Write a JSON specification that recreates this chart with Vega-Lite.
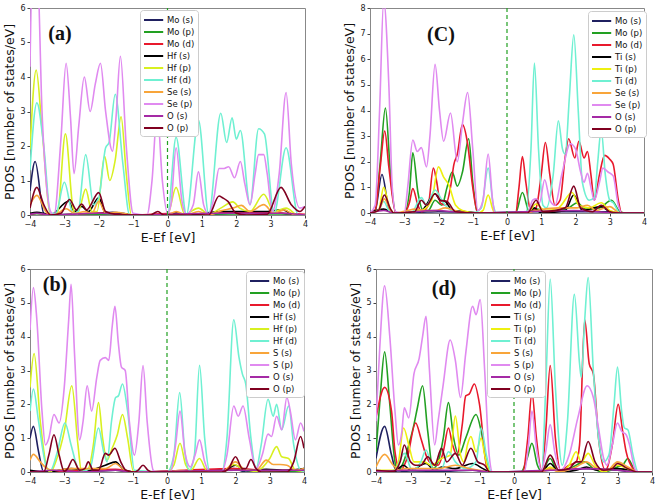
{
"$schema":"https://vega.github.io/schema/vega-lite/v6.json",
"background":"white",
"padding":{"left":3,"top":3,"right":5,"bottom":3},
"config":{
 "view":{"stroke":"#888","strokeWidth":1},
 "axis":{"grid":false,"labelFont":"DejaVu Sans","titleFont":"DejaVu Sans","labelFontSize":8,"titleFontSize":12.5,"titleFontWeight":"normal","titleColor":"#111","labelColor":"#222","domainColor":"#888","tickColor":"#444","tickSize":3,"labelFlush":false,"labelOverlap":false,"labelSeparation":0,"labelPadding":2},
 "axisY":{"titlePadding":3},
 "axisX":{"titlePadding":3},
 "legend":{"orient":"none","fillColor":"white","strokeColor":"#ccc","cornerRadius":3,"padding":3,"labelFont":"DejaVu Sans","labelFontSize":8.5,"labelColor":"#111","symbolType":"M-1,0H2.2","symbolStrokeWidth":2,"symbolSize":144,"rowPadding":0,"labelOffset":10}
},
"datasets":{
"a":[
{"s":"Mo (s)","x":-4,"y":0.7},{"s":"Mo (s)","x":-3.85,"y":1.55},{"s":"Mo (s)","x":-3.6,"y":0.05},{"s":"Mo (s)","x":-3.4,"y":0},{"s":"Mo (s)","x":-2.9,"y":0.02},{"s":"Mo (s)","x":-2,"y":0.05},{"s":"Mo (s)","x":-1.6,"y":0.08},{"s":"Mo (s)","x":-1.3,"y":0.05},{"s":"Mo (s)","x":-1,"y":0},{"s":"Mo (s)","x":0,"y":0},{"s":"Mo (s)","x":0.25,"y":0.04},{"s":"Mo (s)","x":0.6,"y":0},{"s":"Mo (s)","x":1.5,"y":0.03},{"s":"Mo (s)","x":2,"y":0.05},{"s":"Mo (s)","x":2.7,"y":0.05},{"s":"Mo (s)","x":3.3,"y":0.05},{"s":"Mo (s)","x":3.6,"y":0},{"s":"Mo (s)","x":4,"y":0},
{"s":"Mo (p)","x":-4,"y":0.02},{"s":"Mo (p)","x":-3.8,"y":0.04},{"s":"Mo (p)","x":-3.3,"y":0},{"s":"Mo (p)","x":-1.5,"y":0.03},{"s":"Mo (p)","x":-1,"y":0},{"s":"Mo (p)","x":4,"y":0},
{"s":"Mo (d)","x":-4,"y":0.03},{"s":"Mo (d)","x":-3.8,"y":0.05},{"s":"Mo (d)","x":-3.3,"y":0},{"s":"Mo (d)","x":-2,"y":0.06},{"s":"Mo (d)","x":-1.5,"y":0.05},{"s":"Mo (d)","x":-1,"y":0},{"s":"Mo (d)","x":0.25,"y":0.05},{"s":"Mo (d)","x":0.6,"y":0},{"s":"Mo (d)","x":1.6,"y":0.08},{"s":"Mo (d)","x":2.8,"y":0.08},{"s":"Mo (d)","x":3.4,"y":0.05},{"s":"Mo (d)","x":4,"y":0.02},
{"s":"Hf (s)","x":-4,"y":0.05},{"s":"Hf (s)","x":-3.8,"y":0.08},{"s":"Hf (s)","x":-3.4,"y":0},{"s":"Hf (s)","x":-2.88,"y":0.4},{"s":"Hf (s)","x":-2.7,"y":0.1},{"s":"Hf (s)","x":-2.5,"y":0.25},{"s":"Hf (s)","x":-2.3,"y":0.1},{"s":"Hf (s)","x":-2,"y":0.5},{"s":"Hf (s)","x":-1.8,"y":0.05},{"s":"Hf (s)","x":-1.5,"y":0.05},{"s":"Hf (s)","x":-1,"y":0},{"s":"Hf (s)","x":0,"y":0},{"s":"Hf (s)","x":0.25,"y":0.05},{"s":"Hf (s)","x":0.6,"y":0},{"s":"Hf (s)","x":1.55,"y":0.1},{"s":"Hf (s)","x":1.9,"y":0.1},{"s":"Hf (s)","x":2.8,"y":0.1},{"s":"Hf (s)","x":3.35,"y":0.15},{"s":"Hf (s)","x":3.7,"y":0},{"s":"Hf (s)","x":4,"y":0},
{"s":"Hf (p)","x":-4,"y":1.9},{"s":"Hf (p)","x":-3.82,"y":4.2},{"s":"Hf (p)","x":-3.65,"y":2.5},{"s":"Hf (p)","x":-3.4,"y":0},{"s":"Hf (p)","x":-3.2,"y":0.05},{"s":"Hf (p)","x":-2.97,"y":2.35},{"s":"Hf (p)","x":-2.75,"y":0.2},{"s":"Hf (p)","x":-2.65,"y":0},{"s":"Hf (p)","x":-2.55,"y":0.2},{"s":"Hf (p)","x":-2.38,"y":0.75},{"s":"Hf (p)","x":-2.2,"y":0.1},{"s":"Hf (p)","x":-2.05,"y":0.1},{"s":"Hf (p)","x":-1.83,"y":1.7},{"s":"Hf (p)","x":-1.68,"y":1.0},{"s":"Hf (p)","x":-1.52,"y":1.6},{"s":"Hf (p)","x":-1.35,"y":2.85},{"s":"Hf (p)","x":-1.2,"y":1.2},{"s":"Hf (p)","x":-1.05,"y":0},{"s":"Hf (p)","x":0,"y":0},{"s":"Hf (p)","x":0.25,"y":0.8},{"s":"Hf (p)","x":0.5,"y":0.02},{"s":"Hf (p)","x":0.9,"y":0.2},{"s":"Hf (p)","x":1.2,"y":0.02},{"s":"Hf (p)","x":1.55,"y":0.2},{"s":"Hf (p)","x":1.9,"y":0.38},{"s":"Hf (p)","x":2.1,"y":0.2},{"s":"Hf (p)","x":2.4,"y":0.1},{"s":"Hf (p)","x":2.8,"y":0.6},{"s":"Hf (p)","x":3.1,"y":0.1},{"s":"Hf (p)","x":3.45,"y":0.2},{"s":"Hf (p)","x":3.8,"y":0},{"s":"Hf (p)","x":4,"y":0},
{"s":"Hf (d)","x":-4,"y":1.3},{"s":"Hf (d)","x":-3.8,"y":3.25},{"s":"Hf (d)","x":-3.6,"y":2.0},{"s":"Hf (d)","x":-3.4,"y":0.05},{"s":"Hf (d)","x":-3.25,"y":0.05},{"s":"Hf (d)","x":-3.0,"y":0.95},{"s":"Hf (d)","x":-2.75,"y":0.05},{"s":"Hf (d)","x":-2.6,"y":0.1},{"s":"Hf (d)","x":-2.38,"y":1.75},{"s":"Hf (d)","x":-2.15,"y":0.3},{"s":"Hf (d)","x":-2.0,"y":0.5},{"s":"Hf (d)","x":-1.8,"y":1.95},{"s":"Hf (d)","x":-1.7,"y":2.1},{"s":"Hf (d)","x":-1.52,"y":3.5},{"s":"Hf (d)","x":-1.3,"y":1.5},{"s":"Hf (d)","x":-1.1,"y":0},{"s":"Hf (d)","x":0,"y":0},{"s":"Hf (d)","x":0.25,"y":2.25},{"s":"Hf (d)","x":0.55,"y":0.02},{"s":"Hf (d)","x":0.9,"y":2.75},{"s":"Hf (d)","x":1.2,"y":0.02},{"s":"Hf (d)","x":1.55,"y":2.95},{"s":"Hf (d)","x":1.72,"y":2.1},{"s":"Hf (d)","x":1.88,"y":2.82},{"s":"Hf (d)","x":2.0,"y":2.2},{"s":"Hf (d)","x":2.12,"y":2.45},{"s":"Hf (d)","x":2.4,"y":0.3},{"s":"Hf (d)","x":2.65,"y":2.5},{"s":"Hf (d)","x":2.82,"y":2.35},{"s":"Hf (d)","x":3.1,"y":0.05},{"s":"Hf (d)","x":3.45,"y":1.95},{"s":"Hf (d)","x":3.8,"y":0},{"s":"Hf (d)","x":4,"y":0},
{"s":"Se (s)","x":-4,"y":0.3},{"s":"Se (s)","x":-3.8,"y":0.57},{"s":"Se (s)","x":-3.5,"y":0.05},{"s":"Se (s)","x":-3.3,"y":0},{"s":"Se (s)","x":-2.95,"y":0.18},{"s":"Se (s)","x":-2.7,"y":0.05},{"s":"Se (s)","x":-2.4,"y":0.1},{"s":"Se (s)","x":-2.2,"y":0.05},{"s":"Se (s)","x":-2.0,"y":0.4},{"s":"Se (s)","x":-1.8,"y":0.05},{"s":"Se (s)","x":-1.5,"y":0.08},{"s":"Se (s)","x":-1.0,"y":0},{"s":"Se (s)","x":0,"y":0},{"s":"Se (s)","x":0.25,"y":0.1},{"s":"Se (s)","x":0.55,"y":0},{"s":"Se (s)","x":0.9,"y":0.1},{"s":"Se (s)","x":1.2,"y":0},{"s":"Se (s)","x":1.55,"y":0.12},{"s":"Se (s)","x":1.9,"y":0.2},{"s":"Se (s)","x":2.15,"y":0.28},{"s":"Se (s)","x":2.4,"y":0.1},{"s":"Se (s)","x":2.8,"y":0.3},{"s":"Se (s)","x":3.1,"y":0.05},{"s":"Se (s)","x":3.4,"y":0.15},{"s":"Se (s)","x":3.7,"y":0},{"s":"Se (s)","x":4,"y":0},
{"s":"Se (p)","x":-4,"y":4.3},{"s":"Se (p)","x":-3.92,"y":7.5},{"s":"Se (p)","x":-3.8,"y":7.5},{"s":"Se (p)","x":-3.65,"y":3},{"s":"Se (p)","x":-3.4,"y":0.1},{"s":"Se (p)","x":-3.3,"y":0},{"s":"Se (p)","x":-3.1,"y":2.2},{"s":"Se (p)","x":-2.95,"y":4.4},{"s":"Se (p)","x":-2.82,"y":2.8},{"s":"Se (p)","x":-2.72,"y":1.2},{"s":"Se (p)","x":-2.58,"y":2.6},{"s":"Se (p)","x":-2.42,"y":4.0},{"s":"Se (p)","x":-2.25,"y":3.0},{"s":"Se (p)","x":-2.1,"y":3.8},{"s":"Se (p)","x":-1.95,"y":4.4},{"s":"Se (p)","x":-1.8,"y":3.0},{"s":"Se (p)","x":-1.6,"y":1.85},{"s":"Se (p)","x":-1.5,"y":2.8},{"s":"Se (p)","x":-1.37,"y":4.6},{"s":"Se (p)","x":-1.2,"y":2.0},{"s":"Se (p)","x":-1.0,"y":0.05},{"s":"Se (p)","x":-0.6,"y":0},{"s":"Se (p)","x":-0.45,"y":1.0},{"s":"Se (p)","x":-0.3,"y":3.0},{"s":"Se (p)","x":-0.15,"y":1.0},{"s":"Se (p)","x":0,"y":0.05},{"s":"Se (p)","x":0.1,"y":0.3},{"s":"Se (p)","x":0.25,"y":1.95},{"s":"Se (p)","x":0.42,"y":0.4},{"s":"Se (p)","x":0.55,"y":0.02},{"s":"Se (p)","x":0.75,"y":0.3},{"s":"Se (p)","x":0.9,"y":1.25},{"s":"Se (p)","x":1.05,"y":0.3},{"s":"Se (p)","x":1.2,"y":0.02},{"s":"Se (p)","x":1.35,"y":0.5},{"s":"Se (p)","x":1.5,"y":1.35},{"s":"Se (p)","x":1.65,"y":1.35},{"s":"Se (p)","x":1.78,"y":1.4},{"s":"Se (p)","x":1.95,"y":1.08},{"s":"Se (p)","x":2.12,"y":1.55},{"s":"Se (p)","x":2.25,"y":0.9},{"s":"Se (p)","x":2.4,"y":0.3},{"s":"Se (p)","x":2.55,"y":1.2},{"s":"Se (p)","x":2.65,"y":1.75},{"s":"Se (p)","x":2.8,"y":1.75},{"s":"Se (p)","x":2.9,"y":1.2},{"s":"Se (p)","x":3.05,"y":0.1},{"s":"Se (p)","x":3.25,"y":1.2},{"s":"Se (p)","x":3.45,"y":3.55},{"s":"Se (p)","x":3.6,"y":1.5},{"s":"Se (p)","x":3.85,"y":0.2},{"s":"Se (p)","x":4,"y":0.25},
{"s":"O (s)","x":-4,"y":0.02},{"s":"O (s)","x":-3.8,"y":0.05},{"s":"O (s)","x":-3.4,"y":0},{"s":"O (s)","x":-2,"y":0.05},{"s":"O (s)","x":-1,"y":0},{"s":"O (s)","x":1.5,"y":0.05},{"s":"O (s)","x":3.3,"y":0.05},{"s":"O (s)","x":4,"y":0},
{"s":"O (p)","x":-4,"y":0.2},{"s":"O (p)","x":-3.8,"y":0.8},{"s":"O (p)","x":-3.6,"y":0.3},{"s":"O (p)","x":-3.4,"y":0},{"s":"O (p)","x":-3.1,"y":0.05},{"s":"O (p)","x":-2.85,"y":0.45},{"s":"O (p)","x":-2.65,"y":0.15},{"s":"O (p)","x":-2.5,"y":0.32},{"s":"O (p)","x":-2.35,"y":0.15},{"s":"O (p)","x":-2.0,"y":0.65},{"s":"O (p)","x":-1.8,"y":0.1},{"s":"O (p)","x":-1.5,"y":0.02},{"s":"O (p)","x":-1,"y":0},{"s":"O (p)","x":-0.5,"y":0},{"s":"O (p)","x":-0.28,"y":0.1},{"s":"O (p)","x":-0.1,"y":0},{"s":"O (p)","x":1.2,"y":0},{"s":"O (p)","x":1.5,"y":0.55},{"s":"O (p)","x":1.6,"y":0.5},{"s":"O (p)","x":1.75,"y":0.4},{"s":"O (p)","x":2.0,"y":0.05},{"s":"O (p)","x":2.3,"y":0},{"s":"O (p)","x":2.9,"y":0.02},{"s":"O (p)","x":3.3,"y":0.8},{"s":"O (p)","x":3.6,"y":0.3},{"s":"O (p)","x":3.85,"y":0.1},{"s":"O (p)","x":4,"y":0.25}
],
"c":[
{"s":"Mo (s)","x":-4,"y":0},{"s":"Mo (s)","x":-3.85,"y":0.1},{"s":"Mo (s)","x":-3.65,"y":1.5},{"s":"Mo (s)","x":-3.45,"y":0.2},{"s":"Mo (s)","x":-3.3,"y":0},{"s":"Mo (s)","x":-2.5,"y":0.03},{"s":"Mo (s)","x":-2,"y":0.05},{"s":"Mo (s)","x":-1.2,"y":0.03},{"s":"Mo (s)","x":-0.8,"y":0},{"s":"Mo (s)","x":0.8,"y":0.05},{"s":"Mo (s)","x":2,"y":0.05},{"s":"Mo (s)","x":3,"y":0.05},{"s":"Mo (s)","x":3.3,"y":0},{"s":"Mo (s)","x":4,"y":0},
{"s":"Mo (p)","x":-4,"y":0},{"s":"Mo (p)","x":-3.85,"y":0.1},{"s":"Mo (p)","x":-3.7,"y":2.0},{"s":"Mo (p)","x":-3.55,"y":4.1},{"s":"Mo (p)","x":-3.4,"y":1.5},{"s":"Mo (p)","x":-3.25,"y":0.02},{"s":"Mo (p)","x":-3.0,"y":0},{"s":"Mo (p)","x":-2.85,"y":0.8},{"s":"Mo (p)","x":-2.75,"y":2.35},{"s":"Mo (p)","x":-2.6,"y":0.8},{"s":"Mo (p)","x":-2.45,"y":0.1},{"s":"Mo (p)","x":-2.3,"y":0.1},{"s":"Mo (p)","x":-2.1,"y":0.5},{"s":"Mo (p)","x":-1.9,"y":0.3},{"s":"Mo (p)","x":-1.75,"y":1.0},{"s":"Mo (p)","x":-1.6,"y":1.6},{"s":"Mo (p)","x":-1.45,"y":1.05},{"s":"Mo (p)","x":-1.3,"y":1.6},{"s":"Mo (p)","x":-1.12,"y":2.9},{"s":"Mo (p)","x":-1.0,"y":1.2},{"s":"Mo (p)","x":-0.85,"y":0},{"s":"Mo (p)","x":0.25,"y":0},{"s":"Mo (p)","x":0.45,"y":0.8},{"s":"Mo (p)","x":0.65,"y":0.05},{"s":"Mo (p)","x":0.85,"y":0.15},{"s":"Mo (p)","x":1.2,"y":0.05},{"s":"Mo (p)","x":1.8,"y":0.2},{"s":"Mo (p)","x":2.05,"y":0.4},{"s":"Mo (p)","x":2.3,"y":0.15},{"s":"Mo (p)","x":2.7,"y":0.2},{"s":"Mo (p)","x":3.05,"y":0.5},{"s":"Mo (p)","x":3.3,"y":0.05},{"s":"Mo (p)","x":3.5,"y":0},{"s":"Mo (p)","x":4,"y":0},
{"s":"Mo (d)","x":-4,"y":0},{"s":"Mo (d)","x":-3.85,"y":0.1},{"s":"Mo (d)","x":-3.7,"y":1.8},{"s":"Mo (d)","x":-3.57,"y":3.2},{"s":"Mo (d)","x":-3.45,"y":1.8},{"s":"Mo (d)","x":-3.25,"y":0.02},{"s":"Mo (d)","x":-3.0,"y":0},{"s":"Mo (d)","x":-2.85,"y":0.4},{"s":"Mo (d)","x":-2.75,"y":0.95},{"s":"Mo (d)","x":-2.6,"y":0.3},{"s":"Mo (d)","x":-2.5,"y":0.05},{"s":"Mo (d)","x":-2.3,"y":0.3},{"s":"Mo (d)","x":-2.15,"y":1.75},{"s":"Mo (d)","x":-2.05,"y":1.2},{"s":"Mo (d)","x":-1.95,"y":0.4},{"s":"Mo (d)","x":-1.8,"y":0.3},{"s":"Mo (d)","x":-1.65,"y":1.0},{"s":"Mo (d)","x":-1.55,"y":1.9},{"s":"Mo (d)","x":-1.45,"y":2.3},{"s":"Mo (d)","x":-1.3,"y":3.45},{"s":"Mo (d)","x":-1.15,"y":2.7},{"s":"Mo (d)","x":-1.0,"y":1.0},{"s":"Mo (d)","x":-0.85,"y":0},{"s":"Mo (d)","x":0.25,"y":0},{"s":"Mo (d)","x":0.35,"y":1.0},{"s":"Mo (d)","x":0.45,"y":2.2},{"s":"Mo (d)","x":0.55,"y":1.2},{"s":"Mo (d)","x":0.7,"y":0.05},{"s":"Mo (d)","x":0.85,"y":0.2},{"s":"Mo (d)","x":1.0,"y":1.5},{"s":"Mo (d)","x":1.12,"y":2.75},{"s":"Mo (d)","x":1.25,"y":1.5},{"s":"Mo (d)","x":1.4,"y":0.3},{"s":"Mo (d)","x":1.55,"y":0.5},{"s":"Mo (d)","x":1.7,"y":2.2},{"s":"Mo (d)","x":1.8,"y":2.9},{"s":"Mo (d)","x":1.98,"y":2.15},{"s":"Mo (d)","x":2.1,"y":2.8},{"s":"Mo (d)","x":2.25,"y":2.15},{"s":"Mo (d)","x":2.35,"y":2.4},{"s":"Mo (d)","x":2.45,"y":1.5},{"s":"Mo (d)","x":2.55,"y":0.5},{"s":"Mo (d)","x":2.7,"y":1.5},{"s":"Mo (d)","x":2.85,"y":2.25},{"s":"Mo (d)","x":3.0,"y":2.1},{"s":"Mo (d)","x":3.1,"y":1.9},{"s":"Mo (d)","x":3.25,"y":0.5},{"s":"Mo (d)","x":3.35,"y":0},{"s":"Mo (d)","x":4,"y":0},
{"s":"Ti (s)","x":-4,"y":0},{"s":"Ti (s)","x":-3.6,"y":0.15},{"s":"Ti (s)","x":-3.3,"y":0},{"s":"Ti (s)","x":-2.5,"y":0.1},{"s":"Ti (s)","x":-2.1,"y":0.75},{"s":"Ti (s)","x":-1.95,"y":0.5},{"s":"Ti (s)","x":-1.8,"y":0.45},{"s":"Ti (s)","x":-1.6,"y":0.1},{"s":"Ti (s)","x":-1.2,"y":0.05},{"s":"Ti (s)","x":-0.8,"y":0},{"s":"Ti (s)","x":0.6,"y":0},{"s":"Ti (s)","x":0.8,"y":0.2},{"s":"Ti (s)","x":1.0,"y":0},{"s":"Ti (s)","x":1.7,"y":0.1},{"s":"Ti (s)","x":1.95,"y":0.7},{"s":"Ti (s)","x":2.2,"y":0.1},{"s":"Ti (s)","x":2.75,"y":0.25},{"s":"Ti (s)","x":3.0,"y":0.05},{"s":"Ti (s)","x":3.3,"y":0},{"s":"Ti (s)","x":4,"y":0},
{"s":"Ti (p)","x":-4,"y":0},{"s":"Ti (p)","x":-3.75,"y":0.1},{"s":"Ti (p)","x":-3.6,"y":1.0},{"s":"Ti (p)","x":-3.45,"y":0.3},{"s":"Ti (p)","x":-3.3,"y":0},{"s":"Ti (p)","x":-2.5,"y":0.1},{"s":"Ti (p)","x":-2.2,"y":0.5},{"s":"Ti (p)","x":-2.0,"y":1.8},{"s":"Ti (p)","x":-1.85,"y":1.4},{"s":"Ti (p)","x":-1.7,"y":1.1},{"s":"Ti (p)","x":-1.5,"y":0.3},{"s":"Ti (p)","x":-1.3,"y":0.1},{"s":"Ti (p)","x":-0.85,"y":0},{"s":"Ti (p)","x":-0.7,"y":0.1},{"s":"Ti (p)","x":-0.55,"y":0.7},{"s":"Ti (p)","x":-0.4,"y":0.1},{"s":"Ti (p)","x":-0.3,"y":0},{"s":"Ti (p)","x":0.6,"y":0},{"s":"Ti (p)","x":0.85,"y":0.35},{"s":"Ti (p)","x":1.1,"y":0.1},{"s":"Ti (p)","x":1.5,"y":0.2},{"s":"Ti (p)","x":1.9,"y":0.8},{"s":"Ti (p)","x":2.1,"y":0.3},{"s":"Ti (p)","x":2.4,"y":0.2},{"s":"Ti (p)","x":2.75,"y":0.4},{"s":"Ti (p)","x":3.0,"y":0.1},{"s":"Ti (p)","x":3.3,"y":0},{"s":"Ti (p)","x":4,"y":0},
{"s":"Ti (d)","x":-4,"y":0},{"s":"Ti (d)","x":-3.75,"y":0.1},{"s":"Ti (d)","x":-3.6,"y":0.45},{"s":"Ti (d)","x":-3.45,"y":0.1},{"s":"Ti (d)","x":-3.3,"y":0},{"s":"Ti (d)","x":-2.8,"y":0},{"s":"Ti (d)","x":-2.5,"y":0.6},{"s":"Ti (d)","x":-2.35,"y":0.3},{"s":"Ti (d)","x":-2.1,"y":0.9},{"s":"Ti (d)","x":-1.9,"y":0.5},{"s":"Ti (d)","x":-1.8,"y":0.3},{"s":"Ti (d)","x":-1.5,"y":0.05},{"s":"Ti (d)","x":-1,"y":0},{"s":"Ti (d)","x":-0.75,"y":0.2},{"s":"Ti (d)","x":-0.55,"y":1.75},{"s":"Ti (d)","x":-0.4,"y":0.3},{"s":"Ti (d)","x":-0.3,"y":0},{"s":"Ti (d)","x":0.55,"y":0},{"s":"Ti (d)","x":0.7,"y":2.5},{"s":"Ti (d)","x":0.8,"y":5.85},{"s":"Ti (d)","x":0.92,"y":2.5},{"s":"Ti (d)","x":1.05,"y":0.3},{"s":"Ti (d)","x":1.15,"y":0.2},{"s":"Ti (d)","x":1.35,"y":1.5},{"s":"Ti (d)","x":1.5,"y":3.6},{"s":"Ti (d)","x":1.62,"y":2.5},{"s":"Ti (d)","x":1.7,"y":2.3},{"s":"Ti (d)","x":1.82,"y":4.5},{"s":"Ti (d)","x":1.95,"y":6.95},{"s":"Ti (d)","x":2.08,"y":4.0},{"s":"Ti (d)","x":2.2,"y":1.2},{"s":"Ti (d)","x":2.4,"y":0.5},{"s":"Ti (d)","x":2.55,"y":0.6},{"s":"Ti (d)","x":2.65,"y":2.0},{"s":"Ti (d)","x":2.75,"y":3.25},{"s":"Ti (d)","x":2.87,"y":1.5},{"s":"Ti (d)","x":3.0,"y":0.5},{"s":"Ti (d)","x":3.1,"y":0.4},{"s":"Ti (d)","x":3.3,"y":0},{"s":"Ti (d)","x":4,"y":0},
{"s":"Se (s)","x":-4,"y":0},{"s":"Se (s)","x":-3.75,"y":0.1},{"s":"Se (s)","x":-3.58,"y":0.55},{"s":"Se (s)","x":-3.4,"y":0.1},{"s":"Se (s)","x":-3.3,"y":0},{"s":"Se (s)","x":-2.9,"y":0.1},{"s":"Se (s)","x":-2.7,"y":0.15},{"s":"Se (s)","x":-2.4,"y":0.1},{"s":"Se (s)","x":-2.1,"y":0.1},{"s":"Se (s)","x":-1.8,"y":0.2},{"s":"Se (s)","x":-1.4,"y":0.05},{"s":"Se (s)","x":-0.85,"y":0},{"s":"Se (s)","x":0.6,"y":0},{"s":"Se (s)","x":0.85,"y":0.1},{"s":"Se (s)","x":1.5,"y":0.2},{"s":"Se (s)","x":2.05,"y":0.2},{"s":"Se (s)","x":2.35,"y":0.3},{"s":"Se (s)","x":2.6,"y":0.1},{"s":"Se (s)","x":3.0,"y":0.25},{"s":"Se (s)","x":3.3,"y":0},{"s":"Se (s)","x":4,"y":0},
{"s":"Se (p)","x":-4,"y":0},{"s":"Se (p)","x":-3.85,"y":0.3},{"s":"Se (p)","x":-3.72,"y":4.0},{"s":"Se (p)","x":-3.6,"y":8.3},{"s":"Se (p)","x":-3.45,"y":5},{"s":"Se (p)","x":-3.35,"y":1},{"s":"Se (p)","x":-3.25,"y":0.05},{"s":"Se (p)","x":-3.0,"y":0},{"s":"Se (p)","x":-2.9,"y":1.0},{"s":"Se (p)","x":-2.75,"y":2.85},{"s":"Se (p)","x":-2.62,"y":2.4},{"s":"Se (p)","x":-2.5,"y":2.55},{"s":"Se (p)","x":-2.35,"y":1.8},{"s":"Se (p)","x":-2.25,"y":3.0},{"s":"Se (p)","x":-2.1,"y":5.8},{"s":"Se (p)","x":-1.97,"y":4.0},{"s":"Se (p)","x":-1.85,"y":2.8},{"s":"Se (p)","x":-1.65,"y":3.9},{"s":"Se (p)","x":-1.45,"y":2.0},{"s":"Se (p)","x":-1.3,"y":3.5},{"s":"Se (p)","x":-1.15,"y":4.7},{"s":"Se (p)","x":-1.0,"y":2.5},{"s":"Se (p)","x":-0.85,"y":0.1},{"s":"Se (p)","x":-0.7,"y":0.5},{"s":"Se (p)","x":-0.55,"y":2.3},{"s":"Se (p)","x":-0.42,"y":0.5},{"s":"Se (p)","x":-0.35,"y":0},{"s":"Se (p)","x":0.6,"y":0},{"s":"Se (p)","x":0.75,"y":0.5},{"s":"Se (p)","x":0.85,"y":0.55},{"s":"Se (p)","x":0.95,"y":0.4},{"s":"Se (p)","x":1.1,"y":1.3},{"s":"Se (p)","x":1.25,"y":0.5},{"s":"Se (p)","x":1.4,"y":0.3},{"s":"Se (p)","x":1.6,"y":1.5},{"s":"Se (p)","x":1.85,"y":2.7},{"s":"Se (p)","x":2.0,"y":2.5},{"s":"Se (p)","x":2.15,"y":1.6},{"s":"Se (p)","x":2.25,"y":1.2},{"s":"Se (p)","x":2.35,"y":1.55},{"s":"Se (p)","x":2.45,"y":1.0},{"s":"Se (p)","x":2.55,"y":0.5},{"s":"Se (p)","x":2.7,"y":1.2},{"s":"Se (p)","x":2.8,"y":1.75},{"s":"Se (p)","x":2.95,"y":1.6},{"s":"Se (p)","x":3.1,"y":1.45},{"s":"Se (p)","x":3.25,"y":0.3},{"s":"Se (p)","x":3.35,"y":0},{"s":"Se (p)","x":4,"y":0},
{"s":"O (s)","x":-4,"y":0},{"s":"O (s)","x":-3.6,"y":0.1},{"s":"O (s)","x":-3.3,"y":0},{"s":"O (s)","x":-2.1,"y":0.1},{"s":"O (s)","x":-1,"y":0},{"s":"O (s)","x":1.95,"y":0.1},{"s":"O (s)","x":3.3,"y":0},{"s":"O (s)","x":4,"y":0},
{"s":"O (p)","x":-4,"y":0},{"s":"O (p)","x":-3.75,"y":0.1},{"s":"O (p)","x":-3.58,"y":0.7},{"s":"O (p)","x":-3.4,"y":0.15},{"s":"O (p)","x":-3.3,"y":0},{"s":"O (p)","x":-2.7,"y":0.05},{"s":"O (p)","x":-2.5,"y":0.5},{"s":"O (p)","x":-2.35,"y":0.3},{"s":"O (p)","x":-2.1,"y":0.75},{"s":"O (p)","x":-1.95,"y":0.5},{"s":"O (p)","x":-1.75,"y":0.45},{"s":"O (p)","x":-1.5,"y":0.05},{"s":"O (p)","x":-0.8,"y":0},{"s":"O (p)","x":0.6,"y":0},{"s":"O (p)","x":0.85,"y":0.5},{"s":"O (p)","x":1.05,"y":0.05},{"s":"O (p)","x":1.7,"y":0.2},{"s":"O (p)","x":1.95,"y":1.05},{"s":"O (p)","x":2.15,"y":0.2},{"s":"O (p)","x":2.5,"y":0.05},{"s":"O (p)","x":2.75,"y":0.3},{"s":"O (p)","x":3.0,"y":0.05},{"s":"O (p)","x":3.3,"y":0},{"s":"O (p)","x":4,"y":0}
],
"b":[
{"s":"Mo (s)","x":-4,"y":1.0},{"s":"Mo (s)","x":-3.9,"y":1.35},{"s":"Mo (s)","x":-3.75,"y":0.6},{"s":"Mo (s)","x":-3.6,"y":0},{"s":"Mo (s)","x":-2.8,"y":0.02},{"s":"Mo (s)","x":-2,"y":0.03},{"s":"Mo (s)","x":-1.5,"y":0.05},{"s":"Mo (s)","x":-1,"y":0},{"s":"Mo (s)","x":0,"y":0},{"s":"Mo (s)","x":0.4,"y":0.03},{"s":"Mo (s)","x":0.7,"y":0},{"s":"Mo (s)","x":1.95,"y":0.1},{"s":"Mo (s)","x":2.3,"y":0},{"s":"Mo (s)","x":2.9,"y":0.05},{"s":"Mo (s)","x":3.5,"y":0.02},{"s":"Mo (s)","x":4,"y":0.1},
{"s":"Mo (p)","x":-4,"y":0.02},{"s":"Mo (p)","x":-3.5,"y":0},{"s":"Mo (p)","x":-1.5,"y":0.05},{"s":"Mo (p)","x":-1,"y":0},{"s":"Mo (p)","x":2,"y":0.05},{"s":"Mo (p)","x":4,"y":0.02},
{"s":"Mo (d)","x":-4,"y":0.02},{"s":"Mo (d)","x":-3.5,"y":0},{"s":"Mo (d)","x":-1.5,"y":0.08},{"s":"Mo (d)","x":-1,"y":0},{"s":"Mo (d)","x":2,"y":0.1},{"s":"Mo (d)","x":3,"y":0.05},{"s":"Mo (d)","x":4,"y":0.05},
{"s":"Hf (s)","x":-4,"y":0.05},{"s":"Hf (s)","x":-3.5,"y":0},{"s":"Hf (s)","x":-2.8,"y":0.1},{"s":"Hf (s)","x":-2.3,"y":0.05},{"s":"Hf (s)","x":-1.8,"y":0.2},{"s":"Hf (s)","x":-1.5,"y":0.3},{"s":"Hf (s)","x":-1.3,"y":0.1},{"s":"Hf (s)","x":-1,"y":0},{"s":"Hf (s)","x":0,"y":0},{"s":"Hf (s)","x":0.4,"y":0.03},{"s":"Hf (s)","x":0.7,"y":0},{"s":"Hf (s)","x":1.6,"y":0},{"s":"Hf (s)","x":2.0,"y":0.2},{"s":"Hf (s)","x":2.3,"y":0.05},{"s":"Hf (s)","x":2.9,"y":0.08},{"s":"Hf (s)","x":3.5,"y":0.05},{"s":"Hf (s)","x":4,"y":0.1},
{"s":"Hf (p)","x":-4,"y":2.5},{"s":"Hf (p)","x":-3.88,"y":3.5},{"s":"Hf (p)","x":-3.7,"y":1.5},{"s":"Hf (p)","x":-3.5,"y":0.1},{"s":"Hf (p)","x":-3.4,"y":0},{"s":"Hf (p)","x":-3.25,"y":0.3},{"s":"Hf (p)","x":-3.0,"y":1.2},{"s":"Hf (p)","x":-2.78,"y":2.55},{"s":"Hf (p)","x":-2.6,"y":0.8},{"s":"Hf (p)","x":-2.5,"y":0.05},{"s":"Hf (p)","x":-2.3,"y":0.1},{"s":"Hf (p)","x":-2.15,"y":0.8},{"s":"Hf (p)","x":-2.0,"y":2.05},{"s":"Hf (p)","x":-1.88,"y":1.0},{"s":"Hf (p)","x":-1.75,"y":0.35},{"s":"Hf (p)","x":-1.6,"y":0.7},{"s":"Hf (p)","x":-1.45,"y":1.1},{"s":"Hf (p)","x":-1.3,"y":1.7},{"s":"Hf (p)","x":-1.15,"y":1.0},{"s":"Hf (p)","x":-0.98,"y":0.02},{"s":"Hf (p)","x":0,"y":0},{"s":"Hf (p)","x":0.2,"y":0.2},{"s":"Hf (p)","x":0.38,"y":0.85},{"s":"Hf (p)","x":0.55,"y":0.2},{"s":"Hf (p)","x":0.7,"y":0.05},{"s":"Hf (p)","x":0.95,"y":0.4},{"s":"Hf (p)","x":1.15,"y":0.05},{"s":"Hf (p)","x":1.3,"y":0},{"s":"Hf (p)","x":1.6,"y":0},{"s":"Hf (p)","x":1.95,"y":0.22},{"s":"Hf (p)","x":2.2,"y":0.1},{"s":"Hf (p)","x":2.6,"y":0.02},{"s":"Hf (p)","x":3.0,"y":0.4},{"s":"Hf (p)","x":3.2,"y":0.75},{"s":"Hf (p)","x":3.35,"y":0.45},{"s":"Hf (p)","x":3.55,"y":0.4},{"s":"Hf (p)","x":3.75,"y":0.05},{"s":"Hf (p)","x":4,"y":0.02},
{"s":"Hf (d)","x":-4,"y":1.8},{"s":"Hf (d)","x":-3.9,"y":2.45},{"s":"Hf (d)","x":-3.75,"y":1.5},{"s":"Hf (d)","x":-3.5,"y":0.1},{"s":"Hf (d)","x":-3.4,"y":0.05},{"s":"Hf (d)","x":-3.2,"y":0.6},{"s":"Hf (d)","x":-2.98,"y":1.45},{"s":"Hf (d)","x":-2.8,"y":0.8},{"s":"Hf (d)","x":-2.6,"y":0.1},{"s":"Hf (d)","x":-2.5,"y":0.02},{"s":"Hf (d)","x":-2.25,"y":0.1},{"s":"Hf (d)","x":-2.0,"y":1.3},{"s":"Hf (d)","x":-1.85,"y":0.6},{"s":"Hf (d)","x":-1.75,"y":0.3},{"s":"Hf (d)","x":-1.62,"y":1.5},{"s":"Hf (d)","x":-1.5,"y":2.2},{"s":"Hf (d)","x":-1.42,"y":2.25},{"s":"Hf (d)","x":-1.3,"y":2.6},{"s":"Hf (d)","x":-1.15,"y":1.8},{"s":"Hf (d)","x":-0.95,"y":0.05},{"s":"Hf (d)","x":0,"y":0},{"s":"Hf (d)","x":0.2,"y":0.5},{"s":"Hf (d)","x":0.37,"y":2.35},{"s":"Hf (d)","x":0.52,"y":0.6},{"s":"Hf (d)","x":0.65,"y":0.05},{"s":"Hf (d)","x":0.8,"y":0.5},{"s":"Hf (d)","x":0.95,"y":3.15},{"s":"Hf (d)","x":1.1,"y":1.0},{"s":"Hf (d)","x":1.25,"y":0.02},{"s":"Hf (d)","x":1.6,"y":0},{"s":"Hf (d)","x":1.75,"y":1.0},{"s":"Hf (d)","x":1.95,"y":4.5},{"s":"Hf (d)","x":2.1,"y":3.4},{"s":"Hf (d)","x":2.2,"y":2.9},{"s":"Hf (d)","x":2.3,"y":2.6},{"s":"Hf (d)","x":2.45,"y":1.0},{"s":"Hf (d)","x":2.6,"y":0.1},{"s":"Hf (d)","x":2.75,"y":0.8},{"s":"Hf (d)","x":2.95,"y":2.15},{"s":"Hf (d)","x":3.1,"y":1.65},{"s":"Hf (d)","x":3.2,"y":2.0},{"s":"Hf (d)","x":3.35,"y":1.25},{"s":"Hf (d)","x":3.55,"y":1.95},{"s":"Hf (d)","x":3.7,"y":0.8},{"s":"Hf (d)","x":3.9,"y":0.05},{"s":"Hf (d)","x":4,"y":0.02},
{"s":"S (s)","x":-4,"y":0.35},{"s":"S (s)","x":-3.9,"y":0.52},{"s":"S (s)","x":-3.7,"y":0.3},{"s":"S (s)","x":-3.5,"y":0.1},{"s":"S (s)","x":-3.3,"y":0.05},{"s":"S (s)","x":-2.8,"y":0.1},{"s":"S (s)","x":-2.3,"y":0.1},{"s":"S (s)","x":-1.8,"y":0.1},{"s":"S (s)","x":-1.5,"y":0.25},{"s":"S (s)","x":-1.3,"y":0.1},{"s":"S (s)","x":-1,"y":0},{"s":"S (s)","x":0,"y":0},{"s":"S (s)","x":0.4,"y":0.05},{"s":"S (s)","x":0.7,"y":0},{"s":"S (s)","x":1.6,"y":0},{"s":"S (s)","x":2.0,"y":0.3},{"s":"S (s)","x":2.3,"y":0.05},{"s":"S (s)","x":2.6,"y":0.05},{"s":"S (s)","x":2.9,"y":0.35},{"s":"S (s)","x":3.1,"y":0.22},{"s":"S (s)","x":3.3,"y":0.22},{"s":"S (s)","x":3.5,"y":0.2},{"s":"S (s)","x":3.75,"y":0.05},{"s":"S (s)","x":4,"y":0.1},
{"s":"S (p)","x":-4,"y":4.2},{"s":"S (p)","x":-3.9,"y":5.45},{"s":"S (p)","x":-3.8,"y":4.5},{"s":"S (p)","x":-3.65,"y":1.8},{"s":"S (p)","x":-3.55,"y":0.8},{"s":"S (p)","x":-3.45,"y":1.0},{"s":"S (p)","x":-3.3,"y":1.7},{"s":"S (p)","x":-3.15,"y":1.45},{"s":"S (p)","x":-3.0,"y":2.5},{"s":"S (p)","x":-2.87,"y":4.5},{"s":"S (p)","x":-2.8,"y":5.55},{"s":"S (p)","x":-2.7,"y":3.5},{"s":"S (p)","x":-2.55,"y":0.95},{"s":"S (p)","x":-2.45,"y":1.5},{"s":"S (p)","x":-2.33,"y":2.55},{"s":"S (p)","x":-2.2,"y":1.8},{"s":"S (p)","x":-2.05,"y":2.8},{"s":"S (p)","x":-1.95,"y":3.3},{"s":"S (p)","x":-1.8,"y":3.38},{"s":"S (p)","x":-1.7,"y":3.3},{"s":"S (p)","x":-1.6,"y":4.3},{"s":"S (p)","x":-1.52,"y":4.9},{"s":"S (p)","x":-1.42,"y":3.8},{"s":"S (p)","x":-1.33,"y":3.1},{"s":"S (p)","x":-1.22,"y":3.0},{"s":"S (p)","x":-1.1,"y":1.5},{"s":"S (p)","x":-0.95,"y":0.5},{"s":"S (p)","x":-0.82,"y":1.5},{"s":"S (p)","x":-0.7,"y":3.15},{"s":"S (p)","x":-0.58,"y":1.5},{"s":"S (p)","x":-0.4,"y":0.05},{"s":"S (p)","x":-0.3,"y":0},{"s":"S (p)","x":0.1,"y":0},{"s":"S (p)","x":0.25,"y":0.8},{"s":"S (p)","x":0.38,"y":1.8},{"s":"S (p)","x":0.52,"y":0.6},{"s":"S (p)","x":0.68,"y":0.15},{"s":"S (p)","x":0.82,"y":0.5},{"s":"S (p)","x":0.95,"y":0.95},{"s":"S (p)","x":1.1,"y":0.3},{"s":"S (p)","x":1.25,"y":0},{"s":"S (p)","x":1.6,"y":0},{"s":"S (p)","x":1.75,"y":0.5},{"s":"S (p)","x":1.95,"y":1.95},{"s":"S (p)","x":2.08,"y":1.65},{"s":"S (p)","x":2.22,"y":1.95},{"s":"S (p)","x":2.4,"y":1.0},{"s":"S (p)","x":2.6,"y":0.1},{"s":"S (p)","x":2.78,"y":0.5},{"s":"S (p)","x":2.95,"y":1.12},{"s":"S (p)","x":3.05,"y":1.05},{"s":"S (p)","x":3.2,"y":1.65},{"s":"S (p)","x":3.35,"y":1.25},{"s":"S (p)","x":3.5,"y":2.2},{"s":"S (p)","x":3.6,"y":1.8},{"s":"S (p)","x":3.75,"y":0.95},{"s":"S (p)","x":3.9,"y":1.45},{"s":"S (p)","x":4,"y":1.2},
{"s":"O (s)","x":-4,"y":0},{"s":"O (s)","x":-3.3,"y":0.05},{"s":"O (s)","x":-2.5,"y":0},{"s":"O (s)","x":-1.5,"y":0.05},{"s":"O (s)","x":-1,"y":0},{"s":"O (s)","x":2,"y":0.05},{"s":"O (s)","x":3.9,"y":0.05},{"s":"O (s)","x":4,"y":0.05},
{"s":"O (p)","x":-4,"y":0},{"s":"O (p)","x":-3.6,"y":0},{"s":"O (p)","x":-3.45,"y":0.5},{"s":"O (p)","x":-3.3,"y":1.1},{"s":"O (p)","x":-3.15,"y":0.5},{"s":"O (p)","x":-3.0,"y":0.02},{"s":"O (p)","x":-2.9,"y":0.1},{"s":"O (p)","x":-2.75,"y":0.37},{"s":"O (p)","x":-2.55,"y":0.05},{"s":"O (p)","x":-2.4,"y":0.1},{"s":"O (p)","x":-2.3,"y":0.3},{"s":"O (p)","x":-2.15,"y":0.05},{"s":"O (p)","x":-2.0,"y":0.05},{"s":"O (p)","x":-1.8,"y":0.55},{"s":"O (p)","x":-1.7,"y":0.5},{"s":"O (p)","x":-1.52,"y":0.7},{"s":"O (p)","x":-1.35,"y":0.3},{"s":"O (p)","x":-1.2,"y":0.05},{"s":"O (p)","x":-0.95,"y":0},{"s":"O (p)","x":-0.85,"y":0.05},{"s":"O (p)","x":-0.7,"y":0.2},{"s":"O (p)","x":-0.55,"y":0.05},{"s":"O (p)","x":-0.4,"y":0},{"s":"O (p)","x":1.6,"y":0},{"s":"O (p)","x":1.8,"y":0.1},{"s":"O (p)","x":2.0,"y":0.45},{"s":"O (p)","x":2.2,"y":0.1},{"s":"O (p)","x":2.3,"y":0.1},{"s":"O (p)","x":2.45,"y":0.37},{"s":"O (p)","x":2.6,"y":0.1},{"s":"O (p)","x":2.75,"y":0},{"s":"O (p)","x":3.5,"y":0},{"s":"O (p)","x":3.7,"y":0.3},{"s":"O (p)","x":3.9,"y":1.05},{"s":"O (p)","x":4,"y":0.7}
],
"d":[
{"s":"Mo (s)","x":-4,"y":0.4},{"s":"Mo (s)","x":-3.75,"y":1.35},{"s":"Mo (s)","x":-3.55,"y":0.5},{"s":"Mo (s)","x":-3.4,"y":0},{"s":"Mo (s)","x":-3,"y":0.03},{"s":"Mo (s)","x":-2,"y":0.02},{"s":"Mo (s)","x":-1.2,"y":0.05},{"s":"Mo (s)","x":-0.7,"y":0},{"s":"Mo (s)","x":0.5,"y":0.02},{"s":"Mo (s)","x":1.05,"y":0.05},{"s":"Mo (s)","x":2.1,"y":0.1},{"s":"Mo (s)","x":3.0,"y":0.05},{"s":"Mo (s)","x":3.5,"y":0},{"s":"Mo (s)","x":4,"y":0},
{"s":"Mo (p)","x":-4,"y":0.6},{"s":"Mo (p)","x":-3.88,"y":2.2},{"s":"Mo (p)","x":-3.75,"y":3.55},{"s":"Mo (p)","x":-3.6,"y":2.0},{"s":"Mo (p)","x":-3.45,"y":0.3},{"s":"Mo (p)","x":-3.35,"y":0.05},{"s":"Mo (p)","x":-3.2,"y":0.3},{"s":"Mo (p)","x":-3.05,"y":0.8},{"s":"Mo (p)","x":-2.9,"y":1.4},{"s":"Mo (p)","x":-2.8,"y":1.9},{"s":"Mo (p)","x":-2.65,"y":2.55},{"s":"Mo (p)","x":-2.5,"y":1.2},{"s":"Mo (p)","x":-2.35,"y":0.1},{"s":"Mo (p)","x":-2.2,"y":0.3},{"s":"Mo (p)","x":-2.05,"y":1.0},{"s":"Mo (p)","x":-1.9,"y":2.05},{"s":"Mo (p)","x":-1.75,"y":1.0},{"s":"Mo (p)","x":-1.6,"y":0.5},{"s":"Mo (p)","x":-1.4,"y":1.0},{"s":"Mo (p)","x":-1.1,"y":1.7},{"s":"Mo (p)","x":-0.95,"y":1.2},{"s":"Mo (p)","x":-0.8,"y":0.3},{"s":"Mo (p)","x":-0.7,"y":0},{"s":"Mo (p)","x":0.2,"y":0},{"s":"Mo (p)","x":0.38,"y":0.4},{"s":"Mo (p)","x":0.52,"y":0.85},{"s":"Mo (p)","x":0.68,"y":0.2},{"s":"Mo (p)","x":0.8,"y":0.02},{"s":"Mo (p)","x":1.05,"y":0.4},{"s":"Mo (p)","x":1.25,"y":0.05},{"s":"Mo (p)","x":1.6,"y":0.1},{"s":"Mo (p)","x":2.05,"y":0.3},{"s":"Mo (p)","x":2.3,"y":0.1},{"s":"Mo (p)","x":2.6,"y":0},{"s":"Mo (p)","x":2.9,"y":0.1},{"s":"Mo (p)","x":3.0,"y":0.15},{"s":"Mo (p)","x":3.15,"y":0.2},{"s":"Mo (p)","x":3.3,"y":0.4},{"s":"Mo (p)","x":3.5,"y":0.05},{"s":"Mo (p)","x":3.6,"y":0},{"s":"Mo (p)","x":4,"y":0},
{"s":"Mo (d)","x":-4,"y":1.6},{"s":"Mo (d)","x":-3.75,"y":2.5},{"s":"Mo (d)","x":-3.55,"y":1.8},{"s":"Mo (d)","x":-3.45,"y":0.6},{"s":"Mo (d)","x":-3.3,"y":0.05},{"s":"Mo (d)","x":-3.1,"y":0.4},{"s":"Mo (d)","x":-2.85,"y":1.45},{"s":"Mo (d)","x":-2.7,"y":1.0},{"s":"Mo (d)","x":-2.55,"y":0.5},{"s":"Mo (d)","x":-2.45,"y":0.3},{"s":"Mo (d)","x":-2.2,"y":0.2},{"s":"Mo (d)","x":-2.05,"y":0.6},{"s":"Mo (d)","x":-1.9,"y":1.3},{"s":"Mo (d)","x":-1.78,"y":0.8},{"s":"Mo (d)","x":-1.65,"y":0.5},{"s":"Mo (d)","x":-1.5,"y":1.4},{"s":"Mo (d)","x":-1.4,"y":2.25},{"s":"Mo (d)","x":-1.3,"y":2.3},{"s":"Mo (d)","x":-1.15,"y":2.6},{"s":"Mo (d)","x":-1.0,"y":2.0},{"s":"Mo (d)","x":-0.8,"y":0.2},{"s":"Mo (d)","x":-0.7,"y":0},{"s":"Mo (d)","x":0.25,"y":0},{"s":"Mo (d)","x":0.4,"y":1.0},{"s":"Mo (d)","x":0.52,"y":2.35},{"s":"Mo (d)","x":0.65,"y":1.0},{"s":"Mo (d)","x":0.8,"y":0.05},{"s":"Mo (d)","x":0.92,"y":1.2},{"s":"Mo (d)","x":1.05,"y":3.15},{"s":"Mo (d)","x":1.2,"y":1.0},{"s":"Mo (d)","x":1.35,"y":0.05},{"s":"Mo (d)","x":1.6,"y":0.2},{"s":"Mo (d)","x":1.8,"y":0.3},{"s":"Mo (d)","x":1.9,"y":0.8},{"s":"Mo (d)","x":2.05,"y":4.5},{"s":"Mo (d)","x":2.18,"y":3.2},{"s":"Mo (d)","x":2.3,"y":2.9},{"s":"Mo (d)","x":2.45,"y":1.0},{"s":"Mo (d)","x":2.65,"y":0.05},{"s":"Mo (d)","x":2.85,"y":0.8},{"s":"Mo (d)","x":3.02,"y":2.0},{"s":"Mo (d)","x":3.15,"y":1.2},{"s":"Mo (d)","x":3.25,"y":0.6},{"s":"Mo (d)","x":3.45,"y":0.1},{"s":"Mo (d)","x":3.6,"y":0},{"s":"Mo (d)","x":4,"y":0},
{"s":"Ti (s)","x":-4,"y":0.02},{"s":"Ti (s)","x":-3.5,"y":0},{"s":"Ti (s)","x":-3.2,"y":0.2},{"s":"Ti (s)","x":-3.0,"y":0.05},{"s":"Ti (s)","x":-2.55,"y":0.25},{"s":"Ti (s)","x":-2.3,"y":0.05},{"s":"Ti (s)","x":-2.1,"y":0.15},{"s":"Ti (s)","x":-1.7,"y":0.1},{"s":"Ti (s)","x":-1.2,"y":0.25},{"s":"Ti (s)","x":-0.9,"y":0.1},{"s":"Ti (s)","x":-0.7,"y":0},{"s":"Ti (s)","x":0.8,"y":0},{"s":"Ti (s)","x":1.05,"y":0.25},{"s":"Ti (s)","x":1.3,"y":0},{"s":"Ti (s)","x":1.8,"y":0.05},{"s":"Ti (s)","x":2.1,"y":0.15},{"s":"Ti (s)","x":2.4,"y":0.05},{"s":"Ti (s)","x":3.0,"y":0.1},{"s":"Ti (s)","x":3.4,"y":0.05},{"s":"Ti (s)","x":3.6,"y":0},{"s":"Ti (s)","x":4,"y":0},
{"s":"Ti (p)","x":-4,"y":0.05},{"s":"Ti (p)","x":-3.5,"y":0.05},{"s":"Ti (p)","x":-3.35,"y":0.3},{"s":"Ti (p)","x":-3.2,"y":1.3},{"s":"Ti (p)","x":-3.05,"y":0.8},{"s":"Ti (p)","x":-2.9,"y":0.3},{"s":"Ti (p)","x":-2.6,"y":0.3},{"s":"Ti (p)","x":-2.4,"y":0.2},{"s":"Ti (p)","x":-2.1,"y":0.4},{"s":"Ti (p)","x":-1.85,"y":0.5},{"s":"Ti (p)","x":-1.7,"y":1.65},{"s":"Ti (p)","x":-1.55,"y":0.5},{"s":"Ti (p)","x":-1.45,"y":0.3},{"s":"Ti (p)","x":-1.35,"y":0.8},{"s":"Ti (p)","x":-1.25,"y":1.05},{"s":"Ti (p)","x":-1.1,"y":0.6},{"s":"Ti (p)","x":-0.95,"y":1.0},{"s":"Ti (p)","x":-0.85,"y":0.5},{"s":"Ti (p)","x":-0.7,"y":0},{"s":"Ti (p)","x":0.8,"y":0},{"s":"Ti (p)","x":1.05,"y":0.15},{"s":"Ti (p)","x":1.3,"y":0},{"s":"Ti (p)","x":1.6,"y":0.2},{"s":"Ti (p)","x":1.8,"y":0.6},{"s":"Ti (p)","x":1.95,"y":0.3},{"s":"Ti (p)","x":2.15,"y":0.55},{"s":"Ti (p)","x":2.35,"y":0.2},{"s":"Ti (p)","x":2.6,"y":0},{"s":"Ti (p)","x":3.0,"y":0.2},{"s":"Ti (p)","x":3.3,"y":0.1},{"s":"Ti (p)","x":3.6,"y":0},{"s":"Ti (p)","x":4,"y":0},
{"s":"Ti (d)","x":-4,"y":0},{"s":"Ti (d)","x":-3.45,"y":0.05},{"s":"Ti (d)","x":-3.18,"y":0.55},{"s":"Ti (d)","x":-2.95,"y":0.05},{"s":"Ti (d)","x":-2.7,"y":0.3},{"s":"Ti (d)","x":-2.55,"y":0.65},{"s":"Ti (d)","x":-2.35,"y":0.1},{"s":"Ti (d)","x":-2.1,"y":0.1},{"s":"Ti (d)","x":-1.9,"y":0.6},{"s":"Ti (d)","x":-1.7,"y":0.3},{"s":"Ti (d)","x":-1.4,"y":0.1},{"s":"Ti (d)","x":-1.1,"y":0.3},{"s":"Ti (d)","x":-0.95,"y":1.3},{"s":"Ti (d)","x":-0.8,"y":0.5},{"s":"Ti (d)","x":-0.65,"y":0},{"s":"Ti (d)","x":0.8,"y":0},{"s":"Ti (d)","x":0.92,"y":2.5},{"s":"Ti (d)","x":1.05,"y":5.7},{"s":"Ti (d)","x":1.2,"y":2.5},{"s":"Ti (d)","x":1.4,"y":0.2},{"s":"Ti (d)","x":1.55,"y":1.5},{"s":"Ti (d)","x":1.75,"y":5.25},{"s":"Ti (d)","x":1.9,"y":3.2},{"s":"Ti (d)","x":1.95,"y":2.8},{"s":"Ti (d)","x":2.05,"y":4.5},{"s":"Ti (d)","x":2.15,"y":5.75},{"s":"Ti (d)","x":2.3,"y":3.0},{"s":"Ti (d)","x":2.45,"y":1.0},{"s":"Ti (d)","x":2.6,"y":0.3},{"s":"Ti (d)","x":2.75,"y":0.5},{"s":"Ti (d)","x":2.9,"y":2.0},{"s":"Ti (d)","x":3.0,"y":3.1},{"s":"Ti (d)","x":3.12,"y":1.8},{"s":"Ti (d)","x":3.2,"y":1.3},{"s":"Ti (d)","x":3.3,"y":1.25},{"s":"Ti (d)","x":3.45,"y":0.5},{"s":"Ti (d)","x":3.6,"y":0},{"s":"Ti (d)","x":4,"y":0},
{"s":"S (s)","x":-4,"y":0.15},{"s":"S (s)","x":-3.75,"y":0.52},{"s":"S (s)","x":-3.5,"y":0.2},{"s":"S (s)","x":-3.3,"y":0.05},{"s":"S (s)","x":-3.2,"y":0.1},{"s":"S (s)","x":-2.8,"y":0.1},{"s":"S (s)","x":-2.5,"y":0.1},{"s":"S (s)","x":-2.2,"y":0.1},{"s":"S (s)","x":-1.7,"y":0.2},{"s":"S (s)","x":-1.3,"y":0.1},{"s":"S (s)","x":-1,"y":0.05},{"s":"S (s)","x":-0.7,"y":0},{"s":"S (s)","x":0.8,"y":0},{"s":"S (s)","x":1.05,"y":0.1},{"s":"S (s)","x":1.3,"y":0},{"s":"S (s)","x":1.8,"y":0.15},{"s":"S (s)","x":2.1,"y":0.3},{"s":"S (s)","x":2.4,"y":0.1},{"s":"S (s)","x":2.7,"y":0.05},{"s":"S (s)","x":3.0,"y":0.3},{"s":"S (s)","x":3.3,"y":0.15},{"s":"S (s)","x":3.6,"y":0},{"s":"S (s)","x":4,"y":0},
{"s":"S (p)","x":-4,"y":1.5},{"s":"S (p)","x":-3.9,"y":3.5},{"s":"S (p)","x":-3.75,"y":5.5},{"s":"S (p)","x":-3.6,"y":4.0},{"s":"S (p)","x":-3.45,"y":1.8},{"s":"S (p)","x":-3.35,"y":0.8},{"s":"S (p)","x":-3.25,"y":1.2},{"s":"S (p)","x":-3.18,"y":1.9},{"s":"S (p)","x":-3.05,"y":1.6},{"s":"S (p)","x":-2.9,"y":2.9},{"s":"S (p)","x":-2.75,"y":3.35},{"s":"S (p)","x":-2.65,"y":4.0},{"s":"S (p)","x":-2.55,"y":4.6},{"s":"S (p)","x":-2.45,"y":3.0},{"s":"S (p)","x":-2.3,"y":0.8},{"s":"S (p)","x":-2.2,"y":1.5},{"s":"S (p)","x":-2.05,"y":2.6},{"s":"S (p)","x":-1.85,"y":3.9},{"s":"S (p)","x":-1.7,"y":3.3},{"s":"S (p)","x":-1.55,"y":2.2},{"s":"S (p)","x":-1.4,"y":3.5},{"s":"S (p)","x":-1.2,"y":4.9},{"s":"S (p)","x":-1.1,"y":4.65},{"s":"S (p)","x":-0.98,"y":5.1},{"s":"S (p)","x":-0.85,"y":3.0},{"s":"S (p)","x":-0.72,"y":0.5},{"s":"S (p)","x":-0.62,"y":0},{"s":"S (p)","x":0.3,"y":0},{"s":"S (p)","x":0.42,"y":0.8},{"s":"S (p)","x":0.52,"y":1.8},{"s":"S (p)","x":0.65,"y":0.7},{"s":"S (p)","x":0.8,"y":0.05},{"s":"S (p)","x":0.92,"y":0.6},{"s":"S (p)","x":1.05,"y":1.4},{"s":"S (p)","x":1.18,"y":0.6},{"s":"S (p)","x":1.35,"y":0.05},{"s":"S (p)","x":1.6,"y":0.5},{"s":"S (p)","x":1.85,"y":1.6},{"s":"S (p)","x":2.12,"y":2.55},{"s":"S (p)","x":2.3,"y":2.2},{"s":"S (p)","x":2.45,"y":1.3},{"s":"S (p)","x":2.6,"y":0.4},{"s":"S (p)","x":2.7,"y":0.2},{"s":"S (p)","x":2.85,"y":0.8},{"s":"S (p)","x":3.0,"y":1.45},{"s":"S (p)","x":3.12,"y":1.2},{"s":"S (p)","x":3.25,"y":1.1},{"s":"S (p)","x":3.35,"y":0.8},{"s":"S (p)","x":3.5,"y":0.1},{"s":"S (p)","x":3.6,"y":0},{"s":"S (p)","x":4,"y":0},
{"s":"O (s)","x":-4,"y":0},{"s":"O (s)","x":-3.2,"y":0.05},{"s":"O (s)","x":-2.5,"y":0.05},{"s":"O (s)","x":-1.2,"y":0.05},{"s":"O (s)","x":-0.7,"y":0},{"s":"O (s)","x":1.05,"y":0.05},{"s":"O (s)","x":2.15,"y":0.1},{"s":"O (s)","x":3.0,"y":0.05},{"s":"O (s)","x":3.6,"y":0},{"s":"O (s)","x":4,"y":0},
{"s":"O (p)","x":-4,"y":0.05},{"s":"O (p)","x":-3.5,"y":0.02},{"s":"O (p)","x":-3.3,"y":0.3},{"s":"O (p)","x":-3.18,"y":0.8},{"s":"O (p)","x":-3.0,"y":0.3},{"s":"O (p)","x":-2.85,"y":0.2},{"s":"O (p)","x":-2.7,"y":0.2},{"s":"O (p)","x":-2.5,"y":0.45},{"s":"O (p)","x":-2.3,"y":0.2},{"s":"O (p)","x":-2.1,"y":0.7},{"s":"O (p)","x":-1.95,"y":0.3},{"s":"O (p)","x":-1.7,"y":0.55},{"s":"O (p)","x":-1.5,"y":0.2},{"s":"O (p)","x":-1.25,"y":0.7},{"s":"O (p)","x":-1.05,"y":0.3},{"s":"O (p)","x":-0.85,"y":0.2},{"s":"O (p)","x":-0.7,"y":0},{"s":"O (p)","x":0.8,"y":0},{"s":"O (p)","x":1.05,"y":0.5},{"s":"O (p)","x":1.3,"y":0.05},{"s":"O (p)","x":1.6,"y":0.1},{"s":"O (p)","x":1.8,"y":0.3},{"s":"O (p)","x":1.95,"y":0.3},{"s":"O (p)","x":2.15,"y":0.9},{"s":"O (p)","x":2.35,"y":0.3},{"s":"O (p)","x":2.6,"y":0.05},{"s":"O (p)","x":2.85,"y":0.1},{"s":"O (p)","x":3.0,"y":0.25},{"s":"O (p)","x":3.3,"y":0.1},{"s":"O (p)","x":3.6,"y":0},{"s":"O (p)","x":4,"y":0}
]
},
"spacing":20,
"resolve":{"scale":{"color":"independent","x":"independent","y":"independent"},"legend":{"color":"independent"}},
"vconcat":[
{"spacing":34,
 "resolve":{"scale":{"color":"independent","x":"independent","y":"independent"},"legend":{"color":"independent"}},
 "hconcat":[
 {"width":275,"height":207,
  "layer":[
   {"data":{"name":"a"},"mark":{"type":"line","interpolate":"monotone","strokeWidth":1.6,"clip":true},
    "encoding":{
     "x":{"field":"x","type":"quantitative","scale":{"domain":[-4,4],"nice":false},"axis":{"tickCount":8,"labelOverlap":false,"title":"E-Ef [eV]"}},
     "y":{"field":"y","type":"quantitative","scale":{"domain":[0,6],"nice":false},"axis":{"tickCount":6,"labelOverlap":false,"title":"PDOS [number of states/eV]"}},
     "color":{"field":"s","type":"nominal","scale":{"domain":["Mo (s)","Mo (p)","Mo (d)","Hf (s)","Hf (p)","Hf (d)","Se (s)","Se (p)","O (s)","O (p)"],"range":["#1f2060","#22a022","#e8192c","#000000","#d8f020","#6ff0d2","#f8a53a","#e08af0","#a52aa5","#800020"]},"legend":{"title":null,"legendX":110,"legendY":2}}}},
   {"data":{"values":[{}]},"mark":{"type":"rule","color":"#22a022","strokeDash":[4,3],"strokeWidth":1.2},"encoding":{"x":{"datum":0}}},
   {"data":{"values":[{}]},"mark":{"type":"text","font":"Liberation Serif","fontWeight":"bold","fontSize":20,"color":"#111"},"encoding":{"x":{"datum":-3.13},"y":{"datum":5.25},"text":{"value":"(a)"}}}
  ]},
 {"width":274,"height":205,
  "layer":[
   {"data":{"name":"c"},"mark":{"type":"line","interpolate":"monotone","strokeWidth":1.6,"clip":true},
    "encoding":{
     "x":{"field":"x","type":"quantitative","scale":{"domain":[-4,4],"nice":false},"axis":{"tickCount":8,"labelOverlap":false,"title":"E-Ef [eV]"}},
     "y":{"field":"y","type":"quantitative","scale":{"domain":[0,8],"nice":false},"axis":{"tickCount":8,"labelOverlap":false,"title":"PDOS [number of states/eV]"}},
     "color":{"field":"s","type":"nominal","scale":{"domain":["Mo (s)","Mo (p)","Mo (d)","Ti (s)","Ti (p)","Ti (d)","Se (s)","Se (p)","O (s)","O (p)"],"range":["#1f2060","#22a022","#e8192c","#000000","#eef010","#6ff0d2","#f8a53a","#e08af0","#a52aa5","#800020"]},"legend":{"title":null,"legendX":218,"legendY":3}}}},
   {"data":{"values":[{}]},"mark":{"type":"rule","color":"#22a022","strokeDash":[4,3],"strokeWidth":1.2},"encoding":{"x":{"datum":0}}},
   {"data":{"values":[{}]},"mark":{"type":"text","font":"Liberation Serif","fontWeight":"bold","fontSize":20,"color":"#111"},"encoding":{"x":{"datum":-1.93},"y":{"datum":6.95},"text":{"value":"(C)"}}}
  ]}
 ]},
{"spacing":41,
 "resolve":{"scale":{"color":"independent","x":"independent","y":"independent"},"legend":{"color":"independent"}},
 "hconcat":[
 {"width":274,"height":203,
  "layer":[
   {"data":{"name":"b"},"mark":{"type":"line","interpolate":"monotone","strokeWidth":1.6,"clip":true},
    "encoding":{
     "x":{"field":"x","type":"quantitative","scale":{"domain":[-4,4],"nice":false},"axis":{"tickCount":8,"labelOverlap":false,"title":"E-Ef [eV]"}},
     "y":{"field":"y","type":"quantitative","scale":{"domain":[0,6],"nice":false},"axis":{"tickCount":6,"labelOverlap":false,"title":"PDOS [number of states/eV]"}},
     "color":{"field":"s","type":"nominal","scale":{"domain":["Mo (s)","Mo (p)","Mo (d)","Hf (s)","Hf (p)","Hf (d)","S (s)","S (p)","O (s)","O (p)"],"range":["#1f2060","#22a022","#e8192c","#000000","#d8f020","#6ff0d2","#f8a53a","#e08af0","#a52aa5","#800020"]},"legend":{"title":null,"legendX":216,"legendY":2}}}},
   {"data":{"values":[{}]},"mark":{"type":"rule","color":"#22a022","strokeDash":[4,3],"strokeWidth":1.2},"encoding":{"x":{"datum":0}}},
   {"data":{"values":[{}]},"mark":{"type":"text","font":"Liberation Serif","fontWeight":"bold","fontSize":20,"color":"#111"},"encoding":{"x":{"datum":-3.27},"y":{"datum":5.52},"text":{"value":"(b)"}}}
  ]},
 {"width":276,"height":203,
  "layer":[
   {"data":{"name":"d"},"mark":{"type":"line","interpolate":"monotone","strokeWidth":1.6,"clip":true},
    "encoding":{
     "x":{"field":"x","type":"quantitative","scale":{"domain":[-4,4],"nice":false},"axis":{"tickCount":8,"labelOverlap":false,"title":"E-Ef [eV]"}},
     "y":{"field":"y","type":"quantitative","scale":{"domain":[0,6],"nice":false},"axis":{"tickCount":6,"labelOverlap":false,"title":"PDOS [number of states/eV]"}},
     "color":{"field":"s","type":"nominal","scale":{"domain":["Mo (s)","Mo (p)","Mo (d)","Ti (s)","Ti (p)","Ti (d)","S (s)","S (p)","O (s)","O (p)"],"range":["#1f2060","#22a022","#e8192c","#000000","#eef010","#6ff0d2","#f8a53a","#e08af0","#a52aa5","#800020"]},"legend":{"title":null,"legendX":111,"legendY":2}}}},
   {"data":{"values":[{}]},"mark":{"type":"rule","color":"#22a022","strokeDash":[4,3],"strokeWidth":1.2},"encoding":{"x":{"datum":0}}},
   {"data":{"values":[{}]},"mark":{"type":"text","font":"Liberation Serif","fontWeight":"bold","fontSize":20,"color":"#111"},"encoding":{"x":{"datum":-2.03},"y":{"datum":5.42},"text":{"value":"(d)"}}}
  ]}
 ]}
]
}
